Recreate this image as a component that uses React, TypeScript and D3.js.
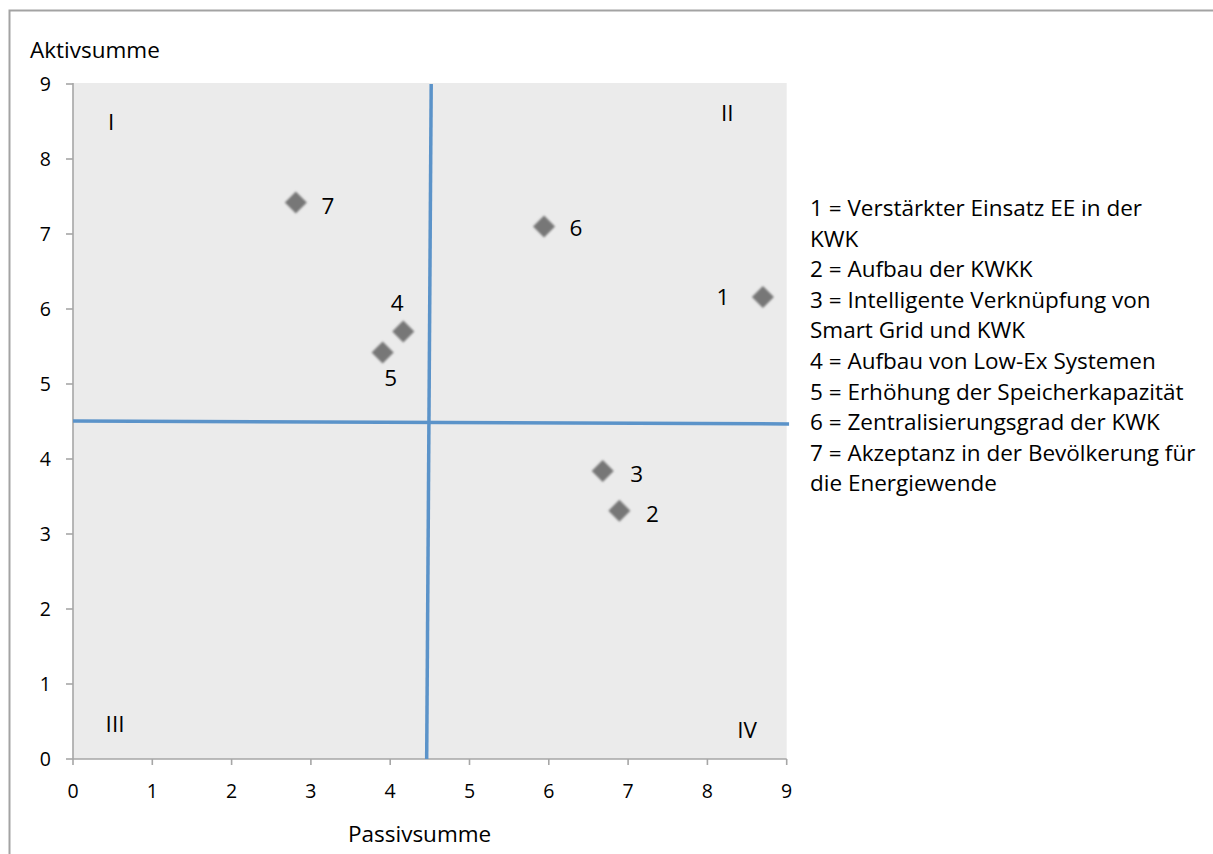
import React from "react";
import * as d3 from "d3";

const ids = ["1", "2", "3", "4", "5", "6", "7"];
const passiv = [8.7, 6.89, 6.68, 4.165, 3.905, 5.94, 2.81];
const aktiv = [6.16, 3.31, 3.84, 5.7, 5.42, 7.1, 7.42];
// label placement relative to marker: [dx, dy] in px
const labelPlace: [number, number][] = [
  [-40, 0], [33, 3], [34, 3], [-6, -29], [8, 25], [32, 1], [32, 3],
];
const ticks = [0, 1, 2, 3, 4, 5, 6, 7, 8, 9];
const quadrants = [
  { t: "I", x: 0.48, y: 8.49 },
  { t: "II", x: 8.25, y: 8.61 },
  { t: "III", x: 0.53, y: 0.47 },
  { t: "IV", x: 8.5, y: 0.39 },
];
const vLine = [{ x: 4.46, y: 0 }, { x: 4.517, y: 9 }];
const hLine = [{ x: 0, y: 4.507 }, { x: 9.03, y: 4.467 }];
const legendLines = [
  "1 = Verstärkter Einsatz EE in der",
  "KWK",
  "2 = Aufbau der KWKK",
  "3 = Intelligente Verknüpfung von",
  "Smart Grid und KWK",
  "4 = Aufbau von Low-Ex Systemen",
  "5 = Erhöhung der Speicherkapazität",
  "6 = Zentralisierungsgrad der KWK",
  "7 = Akzeptanz in der Bevölkerung für",
  "die Energiewende",
];

const W = 1213;
const H = 854;
const left = 73, right = 786.7, top = 84, bottom = 759;
const FONT = "'Open Sans', Lato, sans-serif";
const FS = 22.5;
const TFS = 19.5;

export default function App() {
  const x = d3.scaleLinear().domain([0, 9]).range([left, right]);
  const y = d3.scaleLinear().domain([0, 9]).range([bottom, top]);
  const line = d3.line<{ x: number; y: number }>().x((d) => x(d.x)).y((d) => y(d.y));
  const diamond = d3.symbol().type(d3.symbolDiamond2).size(310)();
  const axisColor = "#a6a6a6";

  return (
    <svg
      width={W}
      height={H}
      style={{ position: "absolute", left: 0, top: 0, background: "#fff" }}
      fontFamily={FONT}
    >
      <defs>
        <filter id="soft" x="-50%" y="-50%" width="200%" height="200%">
          <feGaussianBlur stdDeviation="1.1" />
        </filter>
      </defs>
      <rect x={9.5} y={10.5} width={W + 10} height={H + 10} fill="#fff" stroke="#a3a3a3" strokeWidth={2} />
      <rect x={left} y={top - 1} width={right - left} height={bottom - top + 1} fill="#ebebeb" />

      {/* axes */}
      <line x1={left} x2={left} y1={top - 1} y2={bottom} stroke={axisColor} strokeWidth={1.6} />
      <line x1={left} x2={right} y1={bottom} y2={bottom} stroke={axisColor} strokeWidth={1.6} />
      {ticks.map((t) => (
        <g key={"yt" + t}>
          <line x1={left - 7} x2={left} y1={y(t)} y2={y(t)} stroke={axisColor} strokeWidth={1.6} />
          <text x={51} y={y(t)} dy="0.36em" textAnchor="end" fontSize={TFS} fill="#000">
            {t}
          </text>
        </g>
      ))}
      {ticks.map((t) => (
        <g key={"xt" + t}>
          <line x1={x(t)} x2={x(t)} y1={bottom} y2={bottom + 6} stroke={axisColor} strokeWidth={1.6} />
          <text x={x(t)} y={798} textAnchor="middle" fontSize={TFS} fill="#000">
            {t}
          </text>
        </g>
      ))}
      <text x={30} y={58} fontSize={FS} fill="#000">Aktivsumme</text>
      <text x={348} y={842} fontSize={FS} fill="#000">Passivsumme</text>

      {/* quadrant lines */}
      <path d={line(vLine) || ""} stroke="#5b93c9" strokeWidth={3.5} fill="none" />
      <path d={line(hLine) || ""} stroke="#5b93c9" strokeWidth={3.5} fill="none" />

      {quadrants.map((q) => (
        <text key={q.t} x={x(q.x)} y={y(q.y)} dy="0.36em" textAnchor="middle" fontSize={FS} fill="#000">
          {q.t}
        </text>
      ))}

      {/* points */}
      {ids.map((id, i) => (
        <g key={id}>
          <path
            d={diamond || ""}
            transform={`translate(${x(passiv[i])},${y(aktiv[i])})`}
            fill="#777"
            filter="url(#soft)"
          />
          <text
            x={x(passiv[i]) + labelPlace[i][0]}
            y={y(aktiv[i]) + labelPlace[i][1]}
            dy="0.36em"
            textAnchor="middle"
            fontSize={FS}
            fill="#000"
          >
            {id}
          </text>
        </g>
      ))}

      {/* legend */}
      {legendLines.map((l, i) => (
        <text key={i} x={810} y={216 + i * 30.6} fontSize={FS} fill="#000">
          {l}
        </text>
      ))}
    </svg>
  );
}
